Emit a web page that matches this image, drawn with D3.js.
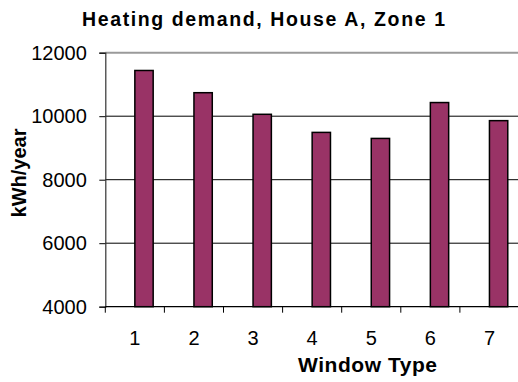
<!DOCTYPE html>
<html>
<head>
<meta charset="utf-8">
<script src="https://cdn.jsdelivr.net/npm/d3@7"></script>
<style>
  html, body { margin: 0; padding: 0; background: #fff; }
  svg { display: block; font-family: "Liberation Sans", Arial, sans-serif; }
</style>
</head>
<body>
<svg id="chart" width="518" height="382"></svg>
<script>
// Annual heating demand per window type
const windowTypes = ["1", "2", "3", "4", "5", "6", "7"];
const heatingDemand = [11440, 10740, 10060, 9490, 9300, 10430, 9860];
const yTicks = [4000, 6000, 8000, 10000, 12000];

const svg = d3.select("#chart");
const plot = { left: 105.3, right: 519, top: 52.7, bottom: 306.7 };
const FONT = "'Liberation Sans', Arial, sans-serif";

const x = d3.scaleBand().domain(windowTypes).range([plot.left, plot.right]).padding(0);
const y = d3.scaleLinear().domain([4000, 12000]).range([plot.bottom, plot.top]);

// horizontal gridlines
svg.append("g").selectAll("line")
  .data(yTicks.filter(d => d > 4000 && d < 12000))
  .join("line")
  .attr("x1", plot.left).attr("x2", plot.right)
  .attr("y1", d => y(d)).attr("y2", d => y(d))
  .attr("stroke", "#000").attr("stroke-width", 1);

// top plot border
svg.append("line")
  .attr("x1", plot.left).attr("x2", plot.right)
  .attr("y1", y(12000)).attr("y2", y(12000))
  .attr("stroke", "#9a9a9a").attr("stroke-width", 2);

// bars, drawn from the centre of each category slot
const barW = x.bandwidth() * 0.31;
svg.append("g").selectAll("rect")
  .data(windowTypes.map((c, i) => ({ c, v: heatingDemand[i] })))
  .join("rect")
  .attr("x", d => x(d.c) + x.bandwidth() / 2)
  .attr("y", d => y(d.v))
  .attr("width", barW)
  .attr("height", d => y(4000) - y(d.v))
  .attr("fill", "#993366")
  .attr("stroke", "#000")
  .attr("stroke-width", 1.5);

// y axis
const yAxis = d3.axisLeft(y).tickValues(yTicks).tickSize(6).tickFormat(d3.format("d"));
const gy = svg.append("g").attr("transform", `translate(${plot.left},0)`).call(yAxis);
gy.select(".domain").attr("stroke", "#333").attr("stroke-width", 1.2);
gy.selectAll(".tick line").attr("stroke", "#000");
gy.selectAll(".tick text")
  .attr("x", -18.5)
  .attr("font-size", 20)
  .attr("fill", "#000")
  .attr("font-family", FONT);

// x axis: ticks at slot boundaries, labels at slot centres
svg.append("line")
  .attr("x1", plot.left).attr("x2", plot.right)
  .attr("y1", plot.bottom).attr("y2", plot.bottom)
  .attr("stroke", "#000").attr("stroke-width", 1.2);
svg.append("g").selectAll("line")
  .data(windowTypes)
  .join("line")
  .attr("x1", d => x(d)).attr("x2", d => x(d))
  .attr("y1", plot.bottom).attr("y2", plot.bottom + 6)
  .attr("stroke", "#000");
svg.append("g").selectAll("text")
  .data(windowTypes)
  .join("text")
  .attr("x", d => x(d) + x.bandwidth() / 2)
  .attr("y", 345)
  .attr("text-anchor", "middle")
  .attr("font-size", 20)
  .text(d => d);

// titles
svg.append("text")
  .attr("x", 263.5).attr("y", 26)
  .attr("text-anchor", "middle")
  .attr("font-size", 19.5).attr("font-weight", "bold")
  .attr("textLength", 363).attr("lengthAdjust", "spacing")
  .text("Heating demand, House A, Zone 1");

svg.append("text")
  .attr("x", 367.5).attr("y", 372)
  .attr("text-anchor", "middle")
  .attr("font-size", 21).attr("font-weight", "bold")
  .attr("textLength", 139).attr("lengthAdjust", "spacing")
  .text("Window Type");

svg.append("text")
  .attr("transform", "translate(26,173) rotate(-90)")
  .attr("text-anchor", "middle")
  .attr("font-size", 20).attr("font-weight", "bold")
  .text("kWh/year");
</script>
</body>
</html>
